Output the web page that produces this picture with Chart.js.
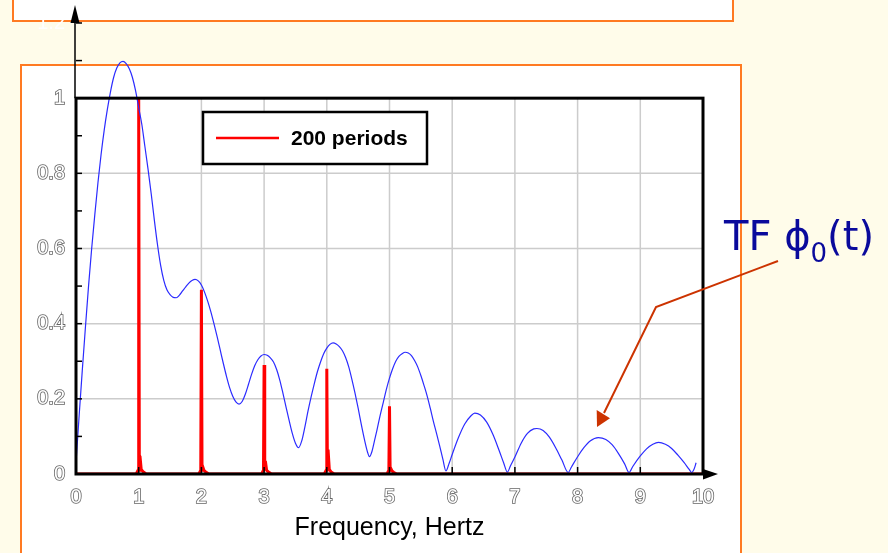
<!DOCTYPE html>
<html>
<head>
<meta charset="utf-8">
<script src="https://cdn.jsdelivr.net/npm/chart.js@4.4.1/dist/chart.umd.min.js"></script>
<style>
  html, body { margin: 0; padding: 0; }
  body { width: 888px; height: 553px; background: #fffcea; position: relative; overflow: hidden; font-family: 'Liberation Sans', Arial, sans-serif; }
  .box { position: absolute; background: #fff; border: 2px solid #ff7a22; box-sizing: border-box; }
  #top-box { left: 12px; top: -10px; width: 722px; height: 32px; }
  #plot-box { left: 20px; top: 64px; width: 722px; height: 520px; }
  #chart { position: absolute; left: 0; top: 0; }
  #note { position: absolute; left: 724px; top: 216px; color: #0a0a9c; font: 40px 'DejaVu Sans', sans-serif; line-height: 40px; white-space: nowrap; }
  #note sub { font-size: 26px; vertical-align: -12px; line-height: 0; }
  #pointer { position: absolute; left: 0; top: 0; }
</style>
</head>
<body>
<div class="box" id="top-box"></div>
<div class="box" id="plot-box"></div>
<canvas id="chart" width="888" height="553"></canvas>
<div id="note">TF ϕ<sub>0</sub>(t)</div>
<svg id="pointer" width="888" height="553">
  <polyline points="778,261 656,307 604,413" fill="none" stroke="#cc3300" stroke-width="2"/>
  <polygon points="597,427 596.7,410 610,418.3" fill="#cc3300"/>
</svg>
<script>
// spectrum of phi_0(t) (blue)
const freqTF = [0.00, 0.05, 0.10, 0.15, 0.20, 0.25, 0.30, 0.35, 0.40, 0.45, 0.50, 0.55, 0.60, 0.65, 0.70, 0.75, 0.80, 0.85, 0.90, 0.95,
  1.00, 1.05, 1.10, 1.15, 1.20, 1.25, 1.30, 1.35, 1.40, 1.45, 1.50, 1.55, 1.60, 1.65, 1.70, 1.75, 1.80, 1.85, 1.90, 1.95,
  2.00, 2.05, 2.10, 2.15, 2.20, 2.25, 2.30, 2.35, 2.40, 2.45, 2.50, 2.55, 2.60, 2.65, 2.70, 2.75, 2.80, 2.85, 2.90, 2.95,
  3.00, 3.05, 3.10, 3.15, 3.20, 3.25, 3.30, 3.35, 3.40, 3.45, 3.50, 3.55, 3.60, 3.65, 3.70, 3.75, 3.80, 3.85, 3.90, 3.95,
  4.00, 4.05, 4.10, 4.15, 4.20, 4.25, 4.30, 4.35, 4.40, 4.45, 4.50, 4.55, 4.60, 4.65, 4.68, 4.72, 4.76, 4.80, 4.85, 4.90, 4.95,
  5.00, 5.05, 5.10, 5.15, 5.20, 5.25, 5.30, 5.35, 5.40, 5.45, 5.50, 5.55, 5.60, 5.65, 5.70, 5.75, 5.80, 5.85, 5.90, 5.95,
  6.00, 6.10, 6.20, 6.30, 6.36, 6.45, 6.55, 6.65, 6.75, 6.82, 6.88, 6.93,
  7.00, 7.10, 7.20, 7.30, 7.35, 7.45, 7.55, 7.65, 7.75, 7.85, 7.90,
  8.00, 8.10, 8.20, 8.33, 8.45, 8.55, 8.65, 8.75, 8.82, 8.88,
  9.00, 9.10, 9.20, 9.29, 9.40, 9.50, 9.60, 9.70, 9.78, 9.82, 9.86, 9.89];
const ampTF = [0.03, 0.155, 0.275, 0.39, 0.50, 0.60, 0.69, 0.775, 0.85, 0.915, 0.97, 1.017, 1.055, 1.08, 1.094, 1.098, 1.092, 1.078, 1.055, 1.02,
  0.975, 0.93, 0.87, 0.81, 0.745, 0.675, 0.61, 0.555, 0.515, 0.49, 0.477, 0.47, 0.469, 0.476, 0.487, 0.498, 0.508, 0.515, 0.518, 0.514,
  0.503, 0.484, 0.46, 0.432, 0.40, 0.366, 0.33, 0.294, 0.26, 0.23, 0.207, 0.192, 0.186, 0.193, 0.212, 0.238, 0.265, 0.288, 0.304, 0.314,
  0.318, 0.316, 0.309, 0.298, 0.278, 0.25, 0.215, 0.178, 0.142, 0.108, 0.082, 0.07, 0.088, 0.125, 0.167, 0.205, 0.24, 0.272, 0.298, 0.32,
  0.335, 0.345, 0.349, 0.346, 0.339, 0.328, 0.31, 0.285, 0.252, 0.215, 0.175, 0.132, 0.092, 0.058, 0.046, 0.06, 0.088, 0.117, 0.155, 0.19, 0.225,
  0.255, 0.28, 0.30, 0.313, 0.32, 0.324, 0.322, 0.315, 0.302, 0.285, 0.262, 0.236, 0.208, 0.175, 0.14, 0.108, 0.075, 0.04, 0.008, 0.028,
  0.052, 0.097, 0.133, 0.155, 0.162, 0.157, 0.138, 0.105, 0.062, 0.03, 0.005, 0.022,
  0.045, 0.082, 0.108, 0.12, 0.121, 0.116, 0.098, 0.07, 0.037, 0.004, 0.018,
  0.046, 0.07, 0.088, 0.097, 0.092, 0.078, 0.055, 0.027, 0.004, 0.02,
  0.048, 0.067, 0.079, 0.084, 0.079, 0.068, 0.05, 0.03, 0.012, 0.004, 0.014, 0.03];

// 200 periods spectrum (red)
const freqPeriods = [0,
  0.96, 0.99, 1.00, 1.01, 1.02, 1.04, 1.07, 1.12,
  1.96, 1.99, 2.00, 2.01, 2.02, 2.04, 2.07, 2.12,
  2.96, 2.99, 3.00, 3.01, 3.02, 3.04, 3.07, 3.12,
  3.96, 3.99, 4.00, 4.01, 4.02, 4.04, 4.07, 4.12,
  4.96, 4.99, 5.00, 5.01, 5.02, 5.04, 5.07, 5.12,
  10];
const ampPeriods = [0,
  0, 0.01, 1.00, 0.01, 0.048, 0.012, 0.006, 0,
  0, 0.01, 0.49, 0.01, 0.02, 0.01, 0.005, 0,
  0, 0.01, 0.29, 0.01, 0.035, 0.01, 0.005, 0,
  0, 0.01, 0.28, 0.01, 0.065, 0.012, 0.005, 0,
  0, 0.01, 0.18, 0.01, 0.015, 0.008, 0.004, 0,
  0];

const xTickValues = [0, 1, 2, 3, 4, 5, 6, 7, 8, 9, 10];
const yTickValues = [0, 0.2, 0.4, 0.6, 0.8, 1, 1.2];
const xGridValues = [1, 2, 3, 4, 5, 6, 7, 8, 9];
const yGridValues = [0.2, 0.4, 0.6, 0.8];
const yMinorTicks = [0.1, 0.2, 0.3, 0.4, 0.5, 0.6, 0.7, 0.8, 0.9, 1.0, 1.1, 1.2];
const legendLabel = '200 periods';

const toPoints = (xs, ys) => xs.map((x, i) => ({x: x, y: ys[i]}));

const framePlugin = {
    id: 'frame',
    beforeDatasetsDraw(chart) {
        const {ctx, scales: {x, y}} = chart;
        ctx.save();
        ctx.strokeStyle = '#cccccc';
        ctx.lineWidth = 1.5;
        xGridValues.forEach(v => {
            const px = x.getPixelForValue(v);
            ctx.beginPath();
            ctx.moveTo(px, y.getPixelForValue(0));
            ctx.lineTo(px, y.getPixelForValue(1));
            ctx.stroke();
        });
        yGridValues.forEach(v => {
            const py = y.getPixelForValue(v);
            ctx.beginPath();
            ctx.moveTo(x.getPixelForValue(0), py);
            ctx.lineTo(x.getPixelForValue(10), py);
            ctx.stroke();
        });
        ctx.restore();
    },
    afterDatasetsDraw(chart) {
        const {ctx, scales: {x, y}} = chart;
        const x0 = x.getPixelForValue(0), x1 = x.getPixelForValue(10);
        const y0 = y.getPixelForValue(0), y1 = y.getPixelForValue(1);
        ctx.save();
        // box round the plot
        ctx.strokeStyle = '#000';
        ctx.lineWidth = 3;
        ctx.strokeRect(x0, y1, x1 - x0, y0 - y1);

        // y axis above the box, with arrow
        ctx.lineWidth = 1.5;
        ctx.beginPath();
        ctx.moveTo(x0 - 1, y1);
        ctx.lineTo(x0 - 1, 22);
        ctx.stroke();
        ctx.fillStyle = '#000';
        ctx.beginPath();
        ctx.moveTo(x0 - 1, 5);
        ctx.lineTo(x0 - 5.5, 23);
        ctx.lineTo(x0 + 3.5, 23);
        ctx.closePath();
        ctx.fill();

        // x axis arrow
        ctx.beginPath();
        ctx.moveTo(x1, y0 - 5);
        ctx.lineTo(x1 + 15, y0);
        ctx.lineTo(x1, y0 + 5.5);
        ctx.closePath();
        ctx.fill();

        // small ticks
        ctx.lineWidth = 1.5;
        yMinorTicks.forEach(v => {
            const py = y.getPixelForValue(v);
            ctx.beginPath();
            ctx.moveTo(x0, py);
            ctx.lineTo(x0 + 6, py);
            ctx.stroke();
        });
        xGridValues.forEach(v => {
            const px = x.getPixelForValue(v);
            ctx.beginPath();
            ctx.moveTo(px, y0);
            ctx.lineTo(px, y0 - 7);
            ctx.stroke();
        });

        // legend
        ctx.fillStyle = '#fff';
        ctx.fillRect(203, 112, 224, 52);
        ctx.lineWidth = 2.5;
        ctx.strokeRect(203, 112, 224, 52);
        ctx.strokeStyle = chart.data.datasets[1].borderColor;
        ctx.lineWidth = 2.5;
        ctx.beginPath();
        ctx.moveTo(216, 138);
        ctx.lineTo(279, 138);
        ctx.stroke();
        ctx.fillStyle = '#000';
        ctx.font = "bold 21px 'Liberation Sans', Arial, sans-serif";
        ctx.textBaseline = 'middle';
        ctx.fillText(legendLabel, 291, 139);
        ctx.restore();
    }
};

new Chart(document.getElementById('chart'), {
    type: 'line',
    data: {
        datasets: [{
            label: 'TF phi0(t)',
            data: toPoints(freqTF, ampTF),
            borderColor: '#2b2bff',
            borderWidth: 1.2,
            pointRadius: 0,
            cubicInterpolationMode: 'monotone',
            fill: false
        }, {
            label: legendLabel,
            data: toPoints(freqPeriods, ampPeriods),
            borderColor: '#ff0000',
            borderWidth: 3,
            pointRadius: 0,
            tension: 0,
            fill: false
        }]
    },
    options: {
        responsive: false,
        animation: false,
        devicePixelRatio: 1,
        layout: { padding: { top: 22, right: 185, bottom: 0, left: 0 } },
        plugins: {
            legend: { display: false },
            tooltip: { enabled: false }
        },
        scales: {
            x: {
                type: 'linear',
                min: 0,
                max: 10,
                afterFit: s => { s.height = 79; },
                afterBuildTicks: s => { s.ticks = xTickValues.map(v => ({value: v})); },
                grid: { display: false, drawTicks: false },
                border: { display: false },
                ticks: {
                    padding: 11,
                    maxRotation: 0,
                    callback: v => String(v),
                    font: { family: "'Liberation Sans', Arial, sans-serif", size: 20 },
                    color: '#ffffff',
                    textStrokeColor: '#666666',
                    textStrokeWidth: 1.6
                },
                title: {
                    display: true,
                    text: 'Frequency, Hertz',
                    color: '#000',
                    font: { family: "'Liberation Sans', Arial, sans-serif", size: 25 },
                    padding: { top: 0, bottom: 10 }
                }
            },
            y: {
                type: 'linear',
                min: 0,
                max: 1.2,
                afterFit: s => { s.width = 76; },
                afterBuildTicks: s => { s.ticks = yTickValues.map(v => ({value: v})); },
                grid: { display: false, drawTicks: false },
                border: { display: false },
                ticks: {
                    padding: 11,
                    callback: v => String(v),
                    font: { family: "'Liberation Sans', Arial, sans-serif", size: 20 },
                    color: '#ffffff',
                    textStrokeColor: '#666666',
                    textStrokeWidth: c => (c.tick && c.tick.value > 1.05 ? 0 : 1.6)
                }
            }
        }
    },
    plugins: [framePlugin]
});
</script>
</body>
</html>
